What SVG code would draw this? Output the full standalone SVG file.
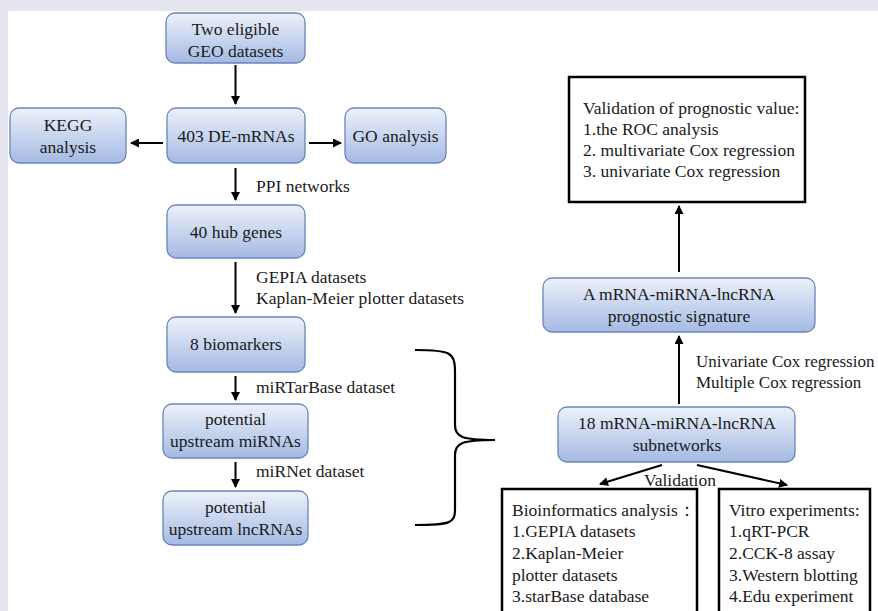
<svg xmlns="http://www.w3.org/2000/svg" width="878" height="611" viewBox="0 0 878 611">
<defs>
<linearGradient id="g" x1="0" y1="0" x2="0" y2="1">
<stop offset="0" stop-color="#edf1fa"/>
<stop offset="1" stop-color="#a4bae3"/>
</linearGradient>
<marker id="ah" markerWidth="9" markerHeight="9" refX="8" refY="4.5" orient="auto" markerUnits="userSpaceOnUse">
<path d="M0,0 L9,4.5 L0,9 Z" fill="#000"/>
</marker>
</defs>
<style>
.n rect{fill:url(#g);stroke:#6a84bb;stroke-width:1.3}
.b rect{fill:#fff;stroke:#000;stroke-width:2.5}
text{font-family:'Liberation Serif',serif;font-size:17.5px;fill:#1a1a1a}
.c{text-anchor:middle}
.s{font-size:17px}
.e line{stroke:#000;stroke-width:2;marker-end:url(#ah)}
</style>
<rect x="0" y="0" width="878" height="611" fill="#e6e6f0"/>
<rect x="8" y="11" width="870" height="600" fill="#fff"/>

<g id="geo" class="n"><rect x="166" y="13" width="139" height="50" rx="9"/><text class="c" x="235.5" y="35">Two eligible</text><text class="c" x="235.5" y="57">GEO datasets</text></g>
<g id="demrna" class="n"><rect x="167" y="108" width="138" height="55" rx="9"/><text class="c" x="236" y="142">403 DE-mRNAs</text></g>
<g id="kegg" class="n"><rect x="10" y="108" width="116" height="55" rx="9"/><text class="c" x="68" y="131">KEGG</text><text class="c" x="68" y="153">analysis</text></g>
<g id="go" class="n"><rect x="345" y="108" width="101" height="55" rx="9"/><text class="c" x="395.5" y="142">GO analysis</text></g>
<g id="hub" class="n"><rect x="167" y="205" width="138" height="53" rx="9"/><text class="c" x="236" y="238">40 hub genes</text></g>
<g id="bio" class="n"><rect x="167" y="317" width="138" height="55" rx="9"/><text class="c" x="236" y="350">8 biomarkers</text></g>
<g id="mirna" class="n"><rect x="163" y="404" width="145" height="54" rx="9"/><text class="c" x="235.5" y="425">potential</text><text class="c" x="235.5" y="447">upstream miRNAs</text></g>
<g id="lnc" class="n"><rect x="163" y="491" width="145" height="54" rx="9"/><text class="c" x="235.5" y="513">potential</text><text class="c" x="235.5" y="535">upstream lncRNAs</text></g>
<g id="sub" class="n"><rect x="558" y="407" width="237" height="55" rx="9"/><text class="c" x="677" y="429">18 mRNA-miRNA-lncRNA</text><text class="c" x="677" y="451">subnetworks</text></g>
<g id="sig" class="n"><rect x="543" y="278" width="272" height="54" rx="9"/><text class="c" x="679" y="300">A mRNA-miRNA-lncRNA</text><text class="c" x="679" y="322">prognostic signature</text></g>
<g id="valbox" class="b"><rect x="569" y="77" width="236" height="125"/><text x="583" y="114">Validation of prognostic value:</text><text x="583" y="135">1.the ROC analysis</text><text x="583" y="156">2. multivariate Cox regression</text><text x="583" y="177">3. univariate Cox regression</text></g>
<g id="bioinfo" class="b"><rect x="502" y="489" width="195" height="130"/><text x="512" y="516">Bioinformatics analysis：</text><text x="512" y="537">1.GEPIA datasets</text><text x="512" y="559">2.Kaplan-Meier</text><text x="512" y="581">plotter datasets</text><text x="512" y="602">3.starBase database</text></g>
<g id="vitro" class="b"><rect x="719" y="489" width="151" height="130"/><text x="729" y="516">Vitro experiments:</text><text x="729" y="537">1.qRT-PCR</text><text x="729" y="559">2.CCK-8 assay</text><text x="729" y="581">3.Western blotting</text><text x="729" y="602">4.Edu experiment</text></g>

<g id="edges" class="e">
<line x1="235.5" y1="65" x2="235.5" y2="104"/>
<line x1="163" y1="143" x2="131" y2="143"/>
<line x1="309" y1="143" x2="341" y2="143"/>
<line x1="235.5" y1="168" x2="235.5" y2="200"/>
<line x1="235.5" y1="262" x2="235.5" y2="313"/>
<line x1="235.5" y1="376" x2="235.5" y2="400"/>
<line x1="235.5" y1="462" x2="235.5" y2="487"/>
<line x1="679" y1="272" x2="679" y2="206"/>
<line x1="679" y1="404" x2="679" y2="336"/>
<line x1="662" y1="465" x2="600" y2="484"/>
<line x1="697" y1="465" x2="787" y2="485"/>
<path d="M415,350 C450,350 455,352 455,372 L455,425 C455,437 462,440 495,440 C462,440 455,443 455,455 L455,510 C455,523 450,525 415,525" fill="none" stroke="#000" stroke-width="2.2"/>
<text x="256" y="192">PPI networks</text>
<text x="256" y="283">GEPIA datasets</text>
<text x="256" y="304">Kaplan-Meier plotter datasets</text>
<text x="256" y="393">miRTarBase dataset</text>
<text x="256" y="477">miRNet dataset</text>
<text class="s" x="696" y="367">Univariate Cox regression</text>
<text class="s" x="696" y="388">Multiple Cox regression</text>
<text class="c" x="680" y="486">Validation</text>
</g>
</svg>
